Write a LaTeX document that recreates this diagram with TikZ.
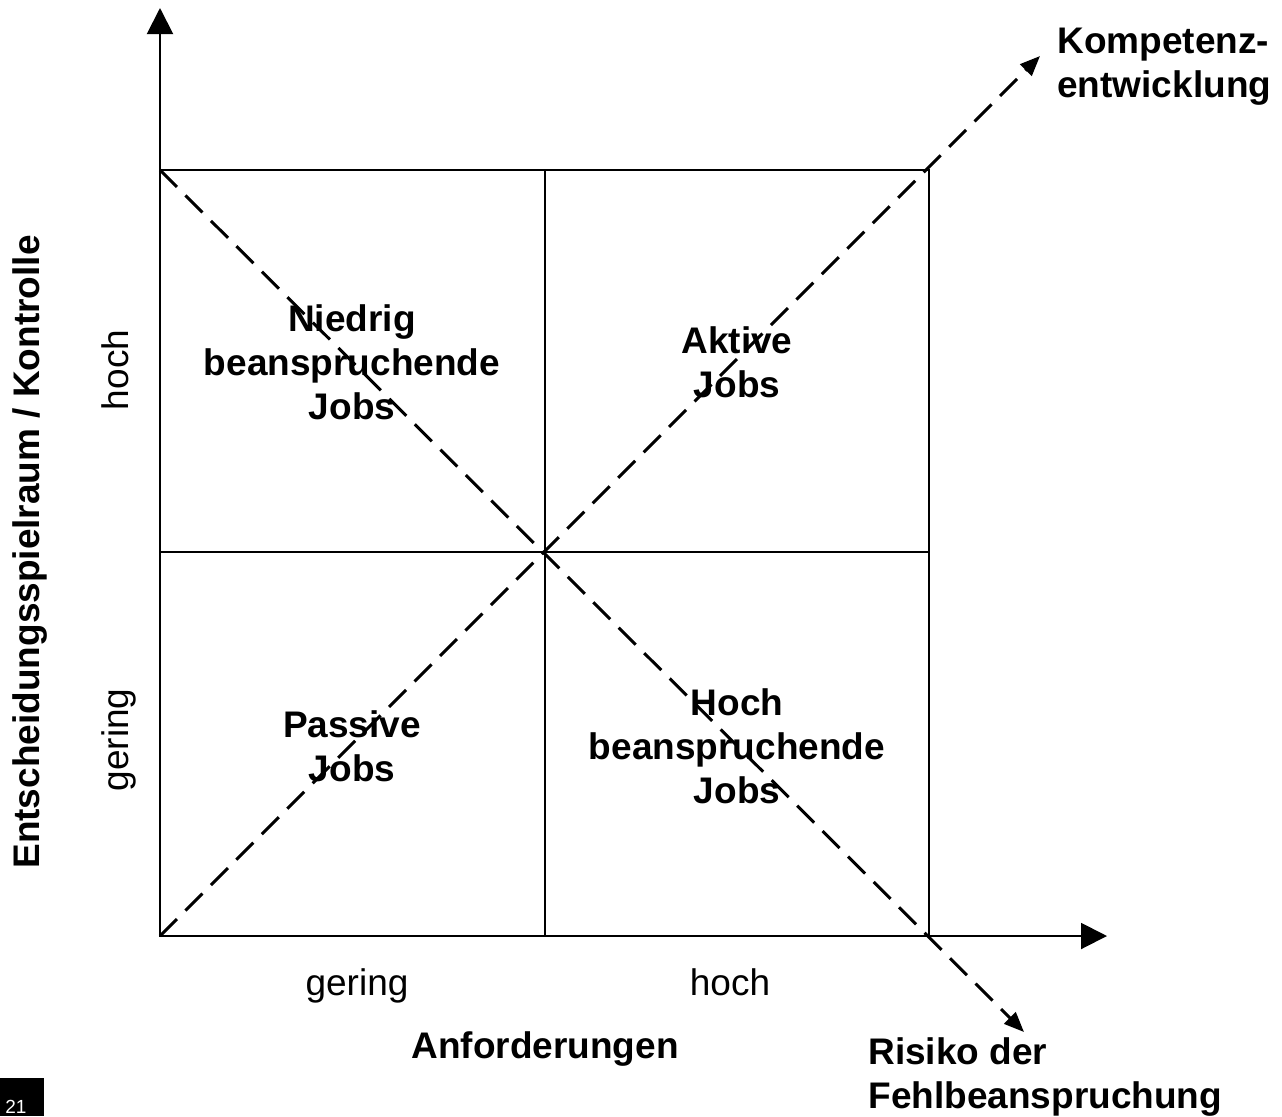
\documentclass[tikz,border=0pt]{standalone}
\usepackage{fontspec}
\setmainfont{Liberation Sans}
\usetikzlibrary{arrows.meta}
\tikzset{
  boldtxt/.style={font=\fontsize{18.5}{22}\selectfont\bfseries, align=center, inner sep=0pt},
  plaintxt/.style={font=\fontsize{18.5}{22}\selectfont, inner sep=0pt},
  axisline/.style={line width=1pt, -{Triangle[length=13pt,width=13pt]}},
  diag/.style={line width=1.5pt, dash pattern=on 12pt off 6pt, -{Triangle[length=10pt,width=8pt]}},
}
\begin{document}
\begin{tikzpicture}[x=0.5pt,y=-0.5pt]
  \useasboundingbox (0,0) rectangle (1282,1116);
  % corners of the field
  \coordinate (sw) at (160,936);
  \coordinate (nw) at (160,170);
  \coordinate (ne) at (929,170);
  \coordinate (se) at (929,936);
  \coordinate (mid) at (545,552);
  \coordinate (ytop) at (160,8);
  \coordinate (xend) at (1107,936);
  \coordinate (kend) at (1040,56);
  \coordinate (rend) at (1024,1032);
  % field
  \draw[line width=1pt] (sw) rectangle (ne);
  \draw[line width=1pt] (545,170) -- (545,936);
  \draw[line width=1pt] (160,552) -- (929,552);
  % axes
  \draw[axisline] (sw) -- (ytop);
  \draw[axisline] (sw) -- (xend);
  % quadrant labels
  \node[boldtxt] (niedrig) at (352,362) {Niedrig\\beanspruchende\\Jobs};
  \node[boldtxt] (aktiv) at (737,362) {Aktive\\Jobs};
  \node[boldtxt] (passiv) at (352,746) {Passive\\Jobs};
  \node[boldtxt] (hoch) at (737,746) {Hoch\\beanspruchende\\Jobs};
  % diagonals
  \draw[diag] (sw) -- (kend);
  \draw[diag] (nw) -- (rend);
  \node[boldtxt, align=left, anchor=west] (kompetenz) at (1057,67) {Kompetenz-\\entwicklung};
  \node[boldtxt, align=left, anchor=west] (risiko) at (868,1077) {Risiko der\\Fehlbeanspruchung};
  % axis labels
  \node[plaintxt, anchor=base] (xgering) at (357,995) {gering};
  \node[plaintxt, anchor=base] (xhoch) at (730,995) {hoch};
  \node[boldtxt] (xlabel) at (545,1049) {Anforderungen};
  \node[plaintxt, rotate=90, anchor=base] (ygering) at (128,740) {gering};
  \node[plaintxt, rotate=90, anchor=base] (yhoch) at (128,370) {hoch};
  \node[boldtxt, rotate=90] (ylabel) at (30,552) {Entscheidungsspielraum / Kontrolle};
  % page number
  \fill[black] (0,1078) rectangle (44,1116);
  \node[font=\fontsize{9.5}{9.5}\selectfont, text=white, anchor=base west, inner sep=0pt] (seite) at (5,1113) {21};
\end{tikzpicture}
\end{document}
